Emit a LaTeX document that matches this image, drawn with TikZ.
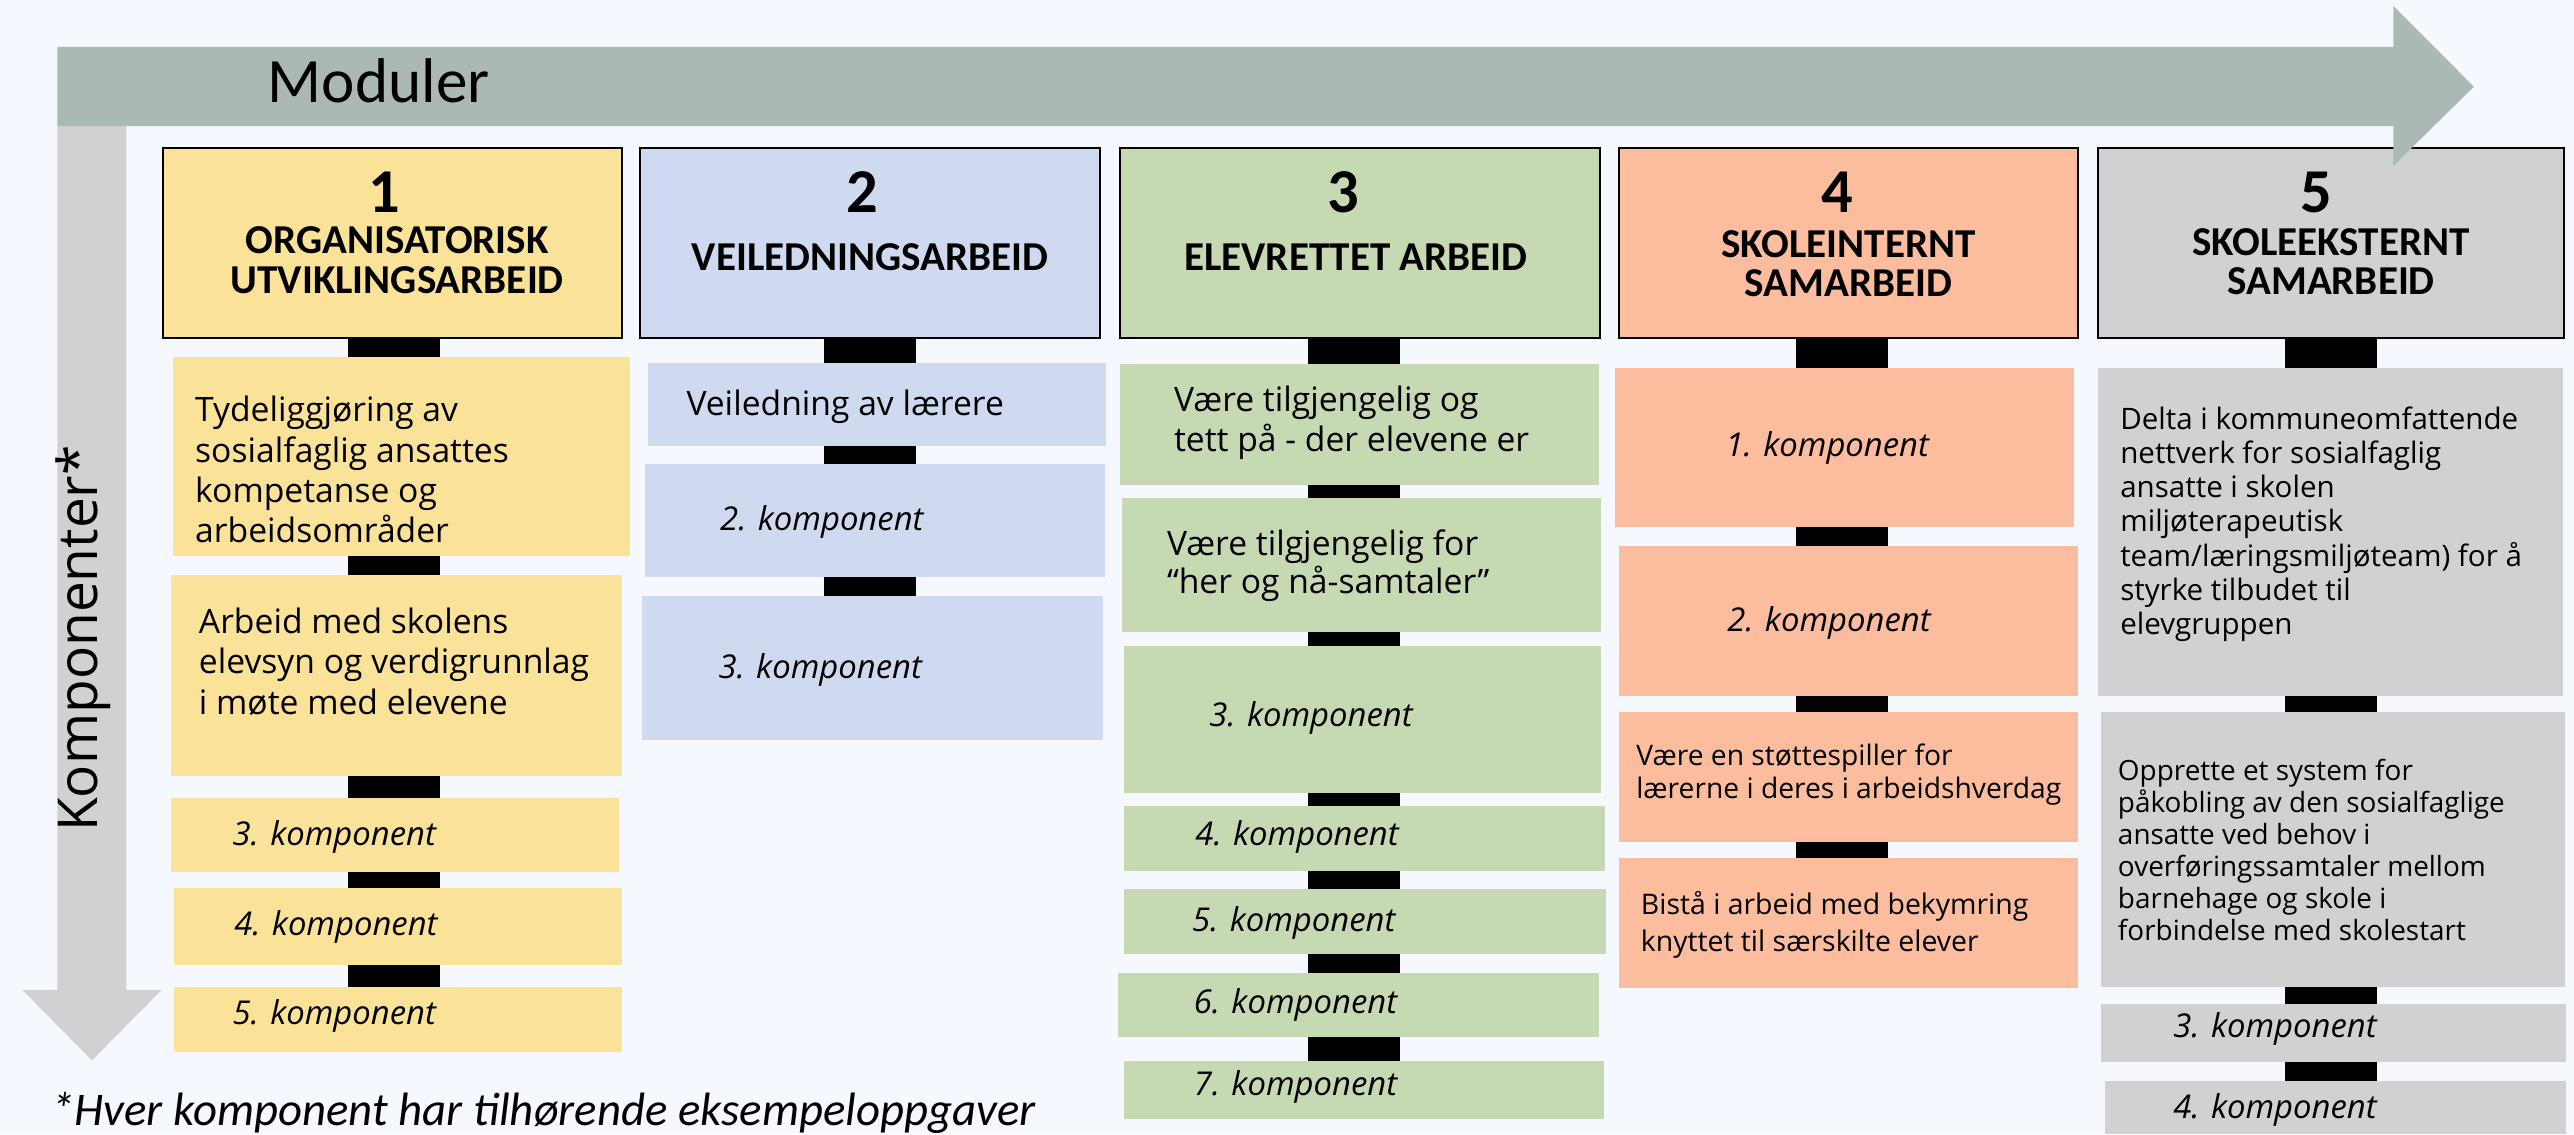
\documentclass[tikz,border=0pt]{standalone}
\usepackage{fontspec}
\setmainfont{Open Sans}
\newfontfamily\calfont{Carlito}
\definecolor{bgc}{RGB}{245,249,255}
\definecolor{harrowc}{RGB}{171,184,180}
\definecolor{varrowc}{RGB}{208,209,211}
\definecolor{yel}{RGB}{250,227,153}
\definecolor{blu}{RGB}{207,218,240}
\definecolor{grn}{RGB}{198,217,179}
\definecolor{sal}{RGB}{251,189,157}
\definecolor{gry}{RGB}{208,209,211}
\begin{document}
\begin{tikzpicture}[x=1pt,y=-1pt,
  hdr/.style={draw=black, line width=1.2pt, inner sep=0pt, outer sep=0pt, anchor=north west, minimum height=115.7pt},
  cbox/.style={inner sep=0pt, outer sep=0pt, anchor=north west},
  conn/.style={line width=56pt, black},
  num/.style={font=\calfont\bfseries\fontsize{38}{40}\selectfont, inner sep=0pt},
  ttl/.style={font=\calfont\bfseries\fontsize{25}{24}\selectfont, align=center, inner sep=0pt},
  body/.style={font=\fontsize{20.5}{24.5}\selectfont, align=left, anchor=west, inner sep=0pt},
  komp/.style={font=\itshape\fontsize{20}{24}\selectfont, anchor=west, inner sep=0pt},
]
\useasboundingbox (0,0) rectangle (1568,691);
\fill[bgc] (0,0) rectangle (1568,691);

% vertical arrow
\fill[varrowc] (35,76.8) -- (77,76.8) -- (77,603) -- (98.5,603) -- (56,646) -- (13.6,603) -- (35,603) -- cycle;

% header boxes
\node[hdr, fill=yel, minimum width=280pt] (h1) at (99,90) {};
\node[hdr, fill=blu, minimum width=280pt] (h2) at (390,90) {};
\node[hdr, fill=grn, minimum width=292.5pt] (h3) at (682,90) {};
\node[hdr, fill=sal, minimum width=279.6pt] (h4) at (986,90) {};
\node[hdr, fill=gry, minimum width=284pt] (h5) at (1278,90) {};

% column 1
\node[cbox, fill=yel, minimum width=278.5pt, minimum height=121pt] (c1a) at (105.5,217.5) {};
\node[cbox, fill=yel, minimum width=275pt, minimum height=122.7pt] (c1b) at (104,350.3) {};
\node[cbox, fill=yel, minimum width=273pt, minimum height=45pt] (c1c) at (104,486) {};
\node[cbox, fill=yel, minimum width=273pt, minimum height=47pt] (c1d) at (106,541) {};
\node[cbox, fill=yel, minimum width=273pt, minimum height=40pt] (c1e) at (106,601) {};
% column 2
\node[cbox, fill=blu, minimum width=279pt, minimum height=50.5pt] (c2a) at (395,221) {};
\node[cbox, fill=blu, minimum width=280pt, minimum height=68.7pt] (c2b) at (393,282.6) {};
\node[cbox, fill=blu, minimum width=281pt, minimum height=88pt] (c2c) at (391,363) {};
% column 3
\node[cbox, fill=grn, minimum width=292pt, minimum height=73.5pt] (c3a) at (682,221.7) {};
\node[cbox, fill=grn, minimum width=291.8pt, minimum height=81.4pt] (c3b) at (683.5,303.4) {};
\node[cbox, fill=grn, minimum width=290.9pt, minimum height=89.4pt] (c3c) at (684.4,393.5) {};
\node[cbox, fill=grn, minimum width=292.5pt, minimum height=39.4pt] (c3d) at (685,491) {};
\node[cbox, fill=grn, minimum width=293.5pt, minimum height=39.5pt] (c3e) at (685,541.5) {};
\node[cbox, fill=grn, minimum width=293pt, minimum height=39.3pt] (c3f) at (681,592.7) {};
\node[cbox, fill=grn, minimum width=292pt, minimum height=35.4pt] (c3g) at (685,646.3) {};
% column 4
\node[cbox, fill=sal, minimum width=279.9pt, minimum height=96.6pt] (c4a) at (983.7,224.2) {};
\node[cbox, fill=sal, minimum width=280pt, minimum height=91.2pt] (c4b) at (986,332.6) {};
\node[cbox, fill=sal, minimum width=280pt, minimum height=79pt] (c4c) at (986,433.7) {};
\node[cbox, fill=sal, minimum width=280pt, minimum height=78.9pt] (c4d) at (986,522.7) {};
% column 5
\node[cbox, fill=gry, minimum width=283.5pt, minimum height=199.6pt] (c5a) at (1278,224.2) {};
\node[cbox, fill=gry, minimum width=282.9pt, minimum height=167.3pt] (c5b) at (1279.6,433.7) {};
\node[cbox, fill=gry, minimum width=283pt, minimum height=35.1pt] (c5c) at (1280,611.6) {};
\node[cbox, fill=gry, minimum width=281pt, minimum height=32.5pt] (c5d) at (1282,658.5) {};

% connector columns
\coordinate (k1) at (240,0);
\coordinate (k2) at (530,0);
\coordinate (k3) at (825,0);
\coordinate (k4) at (1122,0);
\coordinate (k5) at (1420,0);
\foreach \a/\b/\k in {h1/c1a/k1,c1a/c1b/k1,c1b/c1c/k1,c1c/c1d/k1,c1d/c1e/k1,
  h2/c2a/k2,c2a/c2b/k2,c2b/c2c/k2,
  h3/c3a/k3,c3a/c3b/k3,c3b/c3c/k3,c3c/c3d/k3,c3d/c3e/k3,c3e/c3f/k3,c3f/c3g/k3,
  h4/c4a/k4,c4a/c4b/k4,c4b/c4c/k4,c4c/c4d/k4,
  h5/c5a/k5,c5a/c5b/k5,c5b/c5c/k5,c5c/c5d/k5}
  \draw[conn] (\k |- \a.south) -- (\k |- \b.north);

% horizontal arrow (on top of header 5)
\fill[harrowc] (35,28.6) -- (1458,28.6) -- (1458,3.7) -- (1507,52.8) -- (1458,101) -- (1458,76.8) -- (35,76.8) -- cycle;

% axis labels
\node[font=\calfont\fontsize{38.5}{40}\selectfont, anchor=west, inner sep=0pt] (mod) at (163,49) {Moduler};
\node[rotate=90, anchor=base, font=\fontsize{33.5}{36}\selectfont, inner sep=0pt] (kax) at (59.3,389) {Komponenter*};
\node[font=\calfont\itshape\fontsize{28.5}{30}\selectfont, anchor=west, inner sep=0pt] (fn) at (31,678) {*Hver komponent har tilhørende eksempeloppgaver};

% header texts
\node[num] (n1) at (234,117) {1};
\node[ttl] (t1) at (242,158.5) {ORGANISATORISK\\UTVIKLINGSARBEID};
\node[num] (n2) at (525,117) {2};
\node[ttl] (t2) at (530,156.5) {VEILEDNINGSARBEID};
\node[num] (n3) at (818,117) {3};
\node[ttl] (t3) at (826,156.5) {ELEVRETTET ARBEID};
\node[num] (n4) at (1119,117) {4};
\node[ttl] (t4) at (1126,160.5) {SKOLEINTERNT\\SAMARBEID};
\node[num] (n5) at (1411,117) {5};
\node[ttl] (t5) at (1420,159.5) {SKOLEEKSTERNT\\SAMARBEID};

% column 1 texts
\node[body] (x1a) at (118.7,286) {Tydeliggjøring av\\sosialfaglig ansattes\\kompetanse og\\arbeidsområder};
\node[body, font=\fontsize{20.5}{24.8}\selectfont] (x1b) at (121,403) {Arbeid med skolens\\elevsyn og verdigrunnlag\\i møte med elevene};
\node[komp] (x1c) at (141.5,510) {3. komponent};
\node[komp] (x1d) at (142.5,564.5) {4. komponent};
\node[komp] (x1e) at (141.5,619) {5. komponent};
% column 2 texts
\node[body] (x2a) at (418,247.7) {Veiledning av lærere};
\node[komp] (x2b) at (438.5,317.8) {2. komponent};
\node[komp] (x2c) at (437.5,408) {3. komponent};
% column 3 texts
\node[body, font=\fontsize{20.5}{24.4}\selectfont] (x3a) at (715,257.5) {Være tilgjengelig og\\tett på - der elevene er};
\node[body, font=\fontsize{20.5}{23.4}\selectfont] (x3b) at (710.7,344.7) {Være tilgjengelig for\\“her og nå-samtaler”};
\node[komp] (x3c) at (736.5,437.4) {3. komponent};
\node[komp] (x3d) at (728,510) {4. komponent};
\node[komp] (x3e) at (726,562) {5. komponent};
\node[komp] (x3f) at (727,612) {6. komponent};
\node[komp] (x3g) at (727,662) {7. komponent};
% column 4 texts
\node[komp] (x4a) at (1051,273) {1. komponent};
\node[komp] (x4b) at (1052,379.7) {2. komponent};
\node[body, font=\fontsize{17.2}{20.3}\selectfont] (x4c) at (996.6,472) {Være en støttespiller for\\lærerne i deres i arbeidshverdag};
\node[body, font=\fontsize{17.3}{22.3}\selectfont] (x4d) at (999.4,563.5) {Bistå i arbeid med bekymring\\knyttet til særskilte elever};
% column 5 texts
\node[body, font=\fontsize{18}{20.8}\selectfont] (x5a) at (1291.4,319.3) {Delta i kommuneomfattende\\nettverk for sosialfaglig\\ansatte i skolen\\miljøterapeutisk\\team/læringsmiljøteam) for å\\styrke tilbudet til\\elevgruppen};
\node[body, font=\fontsize{17}{19.5}\selectfont] (x5b) at (1290,517.7) {Opprette et system for\\påkobling av den sosialfaglige\\ansatte ved behov i\\overføringssamtaler mellom\\barnehage og skole i\\forbindelse med skolestart};
\node[komp] (x5c) at (1323.7,627) {3. komponent};
\node[komp] (x5d) at (1323.7,676) {4. komponent};
\end{tikzpicture}
\end{document}
